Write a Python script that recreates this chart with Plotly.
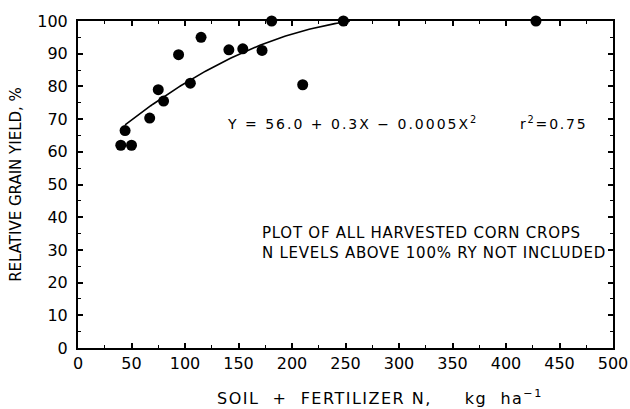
import plotly.graph_objects as go

# Observed data points (Soil + fertilizer N, kg/ha ; relative grain yield, %)
soil_n = [40, 50, 44, 67, 75, 80, 94, 105, 115, 141, 154, 172, 181, 210, 248, 428]
rel_yield = [62, 62, 66.5, 70.3, 79, 75.5, 89.7, 81, 95, 91.2, 91.5, 91, 100, 80.5, 100, 100]

# Regression coefficients as printed on the chart
b0, b1, b2 = 56.0, 0.3, -0.0005
fit_x = [44 + i * 2 for i in range(0, 106)]
fit_y = [b0 + b1 * x + b2 * x * x for x in fit_x]

x_ticks = [0, 50, 100, 150, 200, 250, 300, 350, 400, 450, 500]
y_ticks = [0, 10, 20, 30, 40, 50, 60, 70, 80, 90, 100]

font = "DejaVu Sans, Verdana, sans-serif"
W, H = 630, 409
L, R, T, B = 78, 17, 21, 61


def px(xp):
    return (xp - L) / (W - L - R)


def py(yp):
    return (H - B - yp) / (H - T - B)


fig = go.Figure()
fig.add_trace(go.Scatter(x=fit_x, y=fit_y, mode="lines",
                         line=dict(color="black", width=1.6),
                         showlegend=False, hoverinfo="skip"))
fig.add_trace(go.Scatter(x=soil_n, y=rel_yield, mode="markers",
                         marker=dict(color="black", size=11),
                         cliponaxis=False, showlegend=False))

axis_common = dict(showgrid=False, zeroline=False, showline=True, linecolor="black",
                   linewidth=2, ticks="inside", ticklen=5, tickwidth=1.5, tickcolor="black",
                   mirror="allticks", automargin=False,
                   tickfont=dict(family=font, size=16, color="black"))

fig.update_xaxes(range=[0, 500], tickvals=x_ticks, ticklabelstandoff=0,
                 minor=dict(ticks="inside", dtick=25, ticklen=3, tickwidth=1.2, tickcolor="black"),
                 **axis_common)
fig.update_yaxes(range=[0, 100], tickvals=y_ticks, ticklabelstandoff=5,
                 minor=dict(ticks="inside", dtick=5, ticklen=3, tickwidth=1.2, tickcolor="black"),
                 title=dict(text="RELATIVE GRAIN YIELD, %",
                            font=dict(family=font, size=15, color="black"), standoff=12),
                 **axis_common)


def spaced(text, s):
    return '<span style="letter-spacing:%spx">%s</span>' % (s, text)


fig.add_annotation(x=px(215), y=py(397), xref="paper", yref="paper",
                   xanchor="left", yanchor="middle", showarrow=False,
                   text=spaced("SOIL  +  FERTILIZER N,     kg  ha<sup>−1</sup>", 1.5),
                   font=dict(family=font, size=16, color="black"))
fig.add_annotation(x=px(225), y=py(123), xref="paper", yref="paper",
                   xanchor="left", yanchor="middle", showarrow=False,
                   text=spaced("Y = 56.0 + 0.3X − 0.0005X<sup>2</sup>", 2.0),
                   font=dict(family=font, size=14, color="black"))
fig.add_annotation(x=px(518), y=py(123), xref="paper", yref="paper",
                   xanchor="left", yanchor="middle", showarrow=False,
                   text=spaced("r<sup>2</sup>=0.75", 1.8),
                   font=dict(family=font, size=14, color="black"))
fig.add_annotation(x=px(260), y=py(243), xref="paper", yref="paper",
                   xanchor="left", yanchor="middle", showarrow=False, align="left",
                   text=spaced("PLOT OF ALL HARVESTED CORN CROPS<br>N LEVELS ABOVE 100% RY NOT INCLUDED", 0.75),
                   font=dict(family=font, size=15, color="black"))

fig.update_layout(width=W, height=H, plot_bgcolor="white", paper_bgcolor="white",
                  margin=dict(l=L, r=R, t=T, b=B))

fig.write_html("out.html")
